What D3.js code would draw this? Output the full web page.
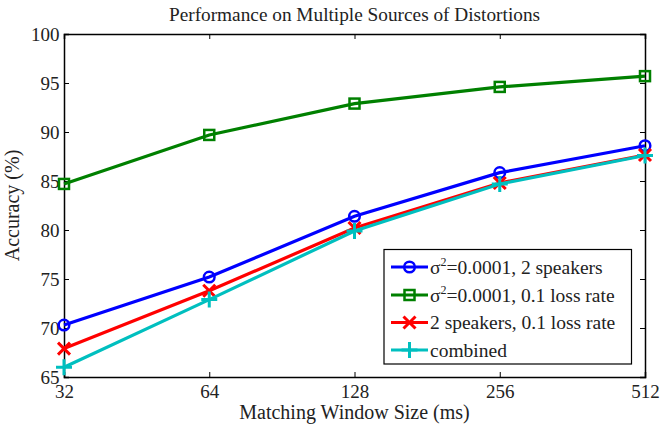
<!DOCTYPE html>
<html><head><meta charset="utf-8">
<script src="https://cdn.jsdelivr.net/npm/d3@7"></script>
<style>body{margin:0;background:#fff}svg{display:block}</style>
</head><body><svg id="c" width="662" height="425"></svg>
<script>
const windowSizes = [32, 64, 128, 256, 512];
const xTickLabels = ["32", "64", "128", "256", "512"];
const yTicks = [65, 70, 75, 80, 85, 90, 95, 100];
const noiseSpeakers = [70.3, 75.2, 81.4, 85.85, 88.6];
const noiseLoss = [84.7, 89.7, 92.9, 94.6, 95.7];
const speakersLoss = [67.9, 73.8, 80.2, 84.8, 87.65];
const combined = [66.0, 72.9, 79.9, 84.7, 87.6];
const seriesNames = ["σ2=0.0001, 2 speakers", "σ2=0.0001, 0.1 loss rate", "2 speakers, 0.1 loss rate", "combined"];

const FF = "'Liberation Serif'";
const series = [
  {name: seriesNames[0], values: noiseSpeakers, color: "#0000ff", marker: "circle", sup: true, pre: "σ", post: "=0.0001, 2 speakers"},
  {name: seriesNames[1], values: noiseLoss, color: "#008000", marker: "square", sup: true, pre: "σ", post: "=0.0001, 0.1 loss rate"},
  {name: seriesNames[2], values: speakersLoss, color: "#ff0000", marker: "x", sup: false},
  {name: seriesNames[3], values: combined, color: "#00bfbf", marker: "plus", sup: false}
];

const svg = d3.select("#c");
const L = 64, R = 645, T = 34, B = 377;
const x = d3.scalePoint().domain(windowSizes).range([L, R]);
const y = d3.scaleLinear().domain([65, 100]).range([B, T]);

const tl = 5;
const gx = svg.append("g").attr("transform", `translate(0,${B})`)
  .call(d3.axisBottom(x).tickSize(-tl).tickPadding(7.5).tickFormat((d,i)=>xTickLabels[i]));
const gxt = svg.append("g").attr("transform", `translate(0,${T})`)
  .call(d3.axisTop(x).tickSize(-tl).tickFormat(""));
const gy = svg.append("g").attr("transform", `translate(${L},0)`)
  .call(d3.axisLeft(y).tickValues(yTicks).tickSize(-tl).tickPadding(4.5));
const gyr = svg.append("g").attr("transform", `translate(${R},0)`)
  .call(d3.axisRight(y).tickValues(yTicks).tickSize(-tl).tickFormat(""));
[gx,gxt,gy,gyr].forEach(g=>{
  g.attr("font-family", null).attr("font-size", 19);
  g.select(".domain").attr("stroke","#000").attr("stroke-width",1.5);
  g.selectAll(".tick line").attr("stroke","#000");
  g.selectAll("text").attr("fill","#222").style("font-family",FF);
});
gx.selectAll(".tick text").attr("dy","0.71em");
gy.selectAll(".tick text").attr("dy","0.35em");

svg.append("text").attr("x",(L+R)/2).attr("y",21).attr("font-size",19.3).attr("fill","#222").style("font-family",FF).attr("text-anchor","middle").text("Performance on Multiple Sources of Distortions");
svg.append("text").attr("x",(L+R)/2).attr("y",419).attr("font-size",20).attr("fill","#222").style("font-family",FF).attr("text-anchor","middle").text("Matching Window Size (ms)");
svg.append("text").attr("transform",`translate(19,${(T+B)/2}) rotate(-90)`).attr("text-anchor","middle").attr("font-size",20).attr("fill","#222").style("font-family",FF).text("Accuracy (%)");

function drawMarker(g, type, cx, cy, color) {
  if (type === "circle") g.append("circle").attr("cx",cx).attr("cy",cy).attr("r",5.3).attr("fill","none").attr("stroke",color).attr("stroke-width",2.5);
  else if (type === "square") g.append("rect").attr("x",cx-5).attr("y",cy-5).attr("width",10).attr("height",10).attr("fill","none").attr("stroke",color).attr("stroke-width",2.5);
  else if (type === "x") g.append("path").attr("d",`M${cx-6},${cy-6}L${cx+6},${cy+6}M${cx-6},${cy+6}L${cx+6},${cy-6}`).attr("stroke",color).attr("stroke-width",3);
  else g.append("path").attr("d",`M${cx-8},${cy}L${cx+8},${cy}M${cx},${cy-8}L${cx},${cy+8}`).attr("stroke",color).attr("stroke-width",3);
}

const line = d3.line().x((d,i)=>x(windowSizes[i])).y(d=>y(d));
series.forEach(s=>{
  const g = svg.append("g");
  g.append("path").datum(s.values).attr("d",line).attr("fill","none").attr("stroke",s.color).attr("stroke-width",3.2);
  s.values.forEach((v,i)=>drawMarker(g, s.marker, x(windowSizes[i]), y(v), s.color));
});

const lg = svg.append("g");
lg.append("rect").attr("x",384).attr("y",249.5).attr("width",247.5).attr("height",114.5).attr("fill","#fff").attr("stroke","#000").attr("stroke-width",1.2);
const rowY = [267, 295, 322.5, 350];
series.forEach((s,i)=>{
  const yy = rowY[i];
  lg.append("line").attr("x1",391).attr("x2",428).attr("y1",yy).attr("y2",yy).attr("stroke",s.color).attr("stroke-width",3.2);
  drawMarker(lg, s.marker, 409.5, yy, s.color);
  const t = lg.append("text").attr("x",430).attr("y",yy+6.5).attr("font-size",19.5).attr("fill","#222").style("font-family",FF);
  if (s.sup) {
    t.append("tspan").text(s.pre);
    t.append("tspan").attr("dy",-8).attr("font-size",12).text("2");
    t.append("tspan").attr("dy",8).text(s.post);
  } else t.text(s.name);
});
</script></body></html>
